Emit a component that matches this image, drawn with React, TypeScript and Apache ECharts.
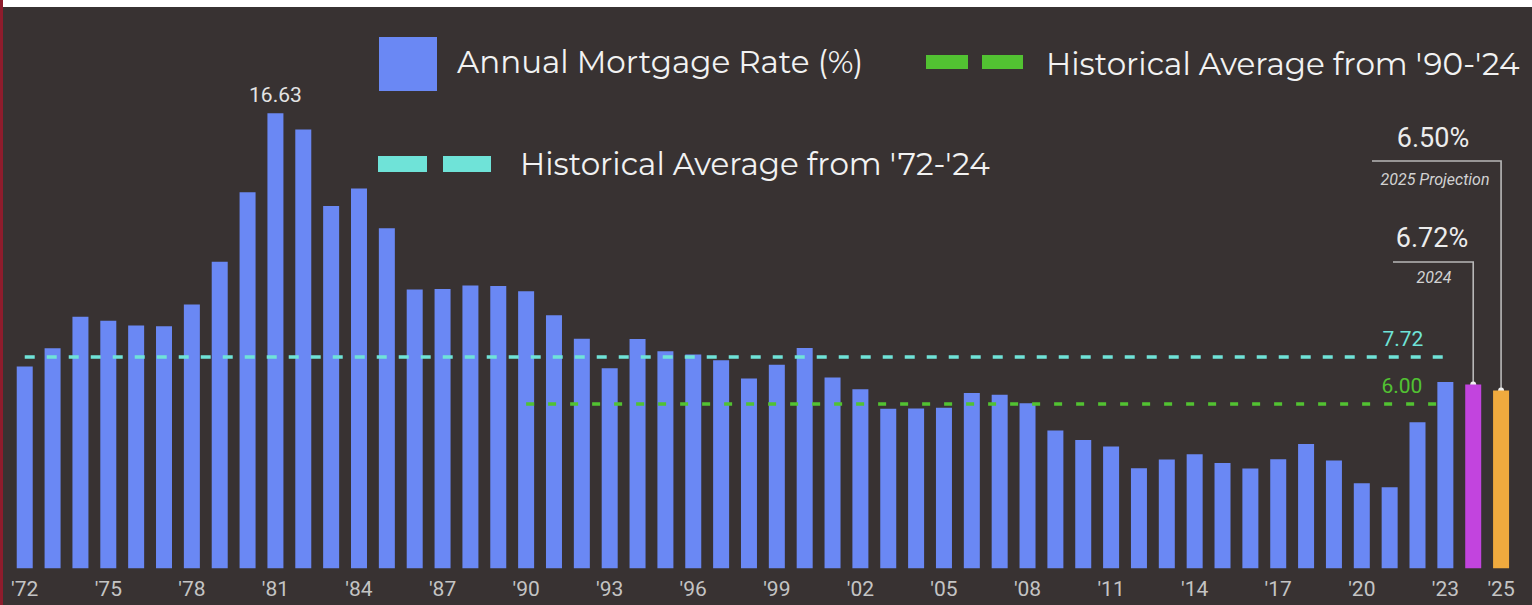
import React, { useEffect, useRef } from "react";
import * as echarts from "echarts";

const years: string[] = [
  "'72", "'73", "'74", "'75", "'76", "'77", "'78", "'79", "'80", "'81",
  "'82", "'83", "'84", "'85", "'86", "'87", "'88", "'89", "'90", "'91",
  "'92", "'93", "'94", "'95", "'96", "'97", "'98", "'99", "'00", "'01",
  "'02", "'03", "'04", "'05", "'06", "'07", "'08", "'09", "'10", "'11",
  "'12", "'13", "'14", "'15", "'16", "'17", "'18", "'19", "'20", "'21",
  "'22", "'23", "'24", "'25",
];

const rates: number[] = [
  7.38, 8.04, 9.19, 9.05, 8.87, 8.85, 9.64, 11.2, 13.74, 16.63,
  16.04, 13.24, 13.88, 12.43, 10.19, 10.21, 10.34, 10.32, 10.13, 9.25,
  8.39, 7.31, 8.38, 7.93, 7.81, 7.6, 6.94, 7.44, 8.05, 6.97,
  6.54, 5.83, 5.84, 5.87, 6.41, 6.34, 6.03, 5.04, 4.69, 4.45,
  3.66, 3.98, 4.17, 3.85, 3.65, 3.99, 4.54, 3.94, 3.11, 2.96,
  5.34, 6.81, 6.72, 6.5,
];

const shownLabels: string[] = [
  "'72", "'75", "'78", "'81", "'84", "'87", "'90", "'93", "'96", "'99",
  "'02", "'05", "'08", "'11", "'14", "'17", "'20", "'23", "'25",
];

const avg72to24 = 7.72;
const avg90to24 = 6.0;
const avg72Range: string[] = ["'72", "'23"];
const avg90Range: string[] = ["'90", "'23"];
const year2024 = "'24";
const year2025 = "'25";

const seriesName = "Annual Mortgage Rate (%)";
const legend90 = "Historical Average from '90-'24";
const legend72 = "Historical Average from '72-'24";

const BLUE = "#6a88f4";
const PURPLE = "#c244de";
const ORANGE = "#f0aa3e";
const CYAN = "#6fe3d8";
const GREEN = "#52c232";
const BG = "#383232";
const LEGEND_FONT = "Montserrat, 'Open Sans', 'Noto Sans', sans-serif";

export default function App() {
  const ref = useRef<HTMLDivElement>(null);

  useEffect(() => {
    if (!ref.current) return;
    const chart = echarts.init(ref.current, undefined, { renderer: "svg" });
    const maxVal = Math.max(...rates);
    const i24 = years.indexOf(year2024);
    const i25 = years.indexOf(year2025);

    const barData = rates.map((v, i) => {
      const item: any = { value: v };
      if (i === i24) item.itemStyle = { color: PURPLE };
      if (i === i25) item.itemStyle = { color: ORANGE };
      if (v === maxVal) {
        item.label = {
          show: true,
          position: "top",
          distance: 8,
          formatter: (p: any) => Number(p.value).toFixed(2),
          color: "#e4e4e4",
          fontSize: 21,
          fontFamily: "Roboto, sans-serif",
        };
      }
      return item;
    });

    chart.setOption({
      animation: false,
      backgroundColor: BG,
      grid: { left: 7.8, right: 17, top: 14.1, bottom: 36.7, containLabel: false },
      xAxis: {
        type: "category",
        data: years,
        boundaryGap: true,
        axisLine: { show: false },
        axisTick: { show: false },
        axisLabel: {
          interval: (_idx: number, val: string) => shownLabels.includes(val),
          color: "#c4c4c4",
          fontSize: 21,
          fontFamily: "Roboto, sans-serif",
          margin: 10,
        },
      },
      yAxis: {
        type: "value",
        min: 0,
        max: 20,
        show: false,
        splitLine: { show: false },
      },
      series: [
        {
          name: seriesName,
          type: "bar",
          data: barData,
          barWidth: 16,
          itemStyle: { color: BLUE },
          markLine: {
            silent: true,
            symbol: "none",
            data: [
              [
                {
                  coord: [avg72Range[0], avg72to24],
                  lineStyle: { color: CYAN, width: 3.5, type: [10, 12] },
                  label: {
                    show: true,
                    position: "insideEndTop",
                    distance: [22, 8],
                    formatter: avg72to24.toFixed(2),
                    color: CYAN,
                    fontSize: 21,
                    fontFamily: "Roboto, sans-serif",
                  },
                },
                { coord: [avg72Range[1], avg72to24] },
              ],
              [
                {
                  coord: [avg90Range[0], avg90to24],
                  lineStyle: { color: GREEN, width: 3.5, type: [8, 14] },
                  label: {
                    show: true,
                    position: "insideEndTop",
                    distance: [23, 8],
                    formatter: avg90to24.toFixed(2),
                    color: GREEN,
                    fontSize: 21,
                    fontFamily: "Roboto, sans-serif",
                  },
                },
                { coord: [avg90Range[1], avg90to24] },
              ],
            ],
          },
        },
      ],
    });

    const p24 = chart.convertToPixel({ xAxisIndex: 0, yAxisIndex: 0 }, [i24, rates[i24]]) as number[];
    const p25 = chart.convertToPixel({ xAxisIndex: 0, yAxisIndex: 0 }, [i25, rates[i25]]) as number[];
    const leader = { stroke: "#b8b8b8", lineWidth: 1.6 };
    const annoFont = "Roboto, sans-serif";

    chart.setOption({
      graphic: [
        // legend
        { type: "rect", shape: { x: 376, y: 30, width: 58, height: 54 }, style: { fill: BLUE } },
        {
          type: "text", x: 454, y: 55,
          style: { text: seriesName, fill: "#f2f2f2", font: `31px ${LEGEND_FONT}`, verticalAlign: "middle" },
        },
        { type: "rect", shape: { x: 923, y: 48, width: 42, height: 14 }, style: { fill: GREEN } },
        { type: "rect", shape: { x: 979, y: 48, width: 41, height: 14 }, style: { fill: GREEN } },
        {
          type: "text", x: 1043, y: 57,
          style: { text: legend90, fill: "#f2f2f2", font: `31px ${LEGEND_FONT}`, verticalAlign: "middle" },
        },
        { type: "rect", shape: { x: 375, y: 149, width: 49, height: 16 }, style: { fill: CYAN } },
        { type: "rect", shape: { x: 440, y: 149, width: 48, height: 16 }, style: { fill: CYAN } },
        {
          type: "text", x: 517, y: 157,
          style: { text: legend72, fill: "#f2f2f2", font: `31px ${LEGEND_FONT}`, verticalAlign: "middle" },
        },
        // 2025 projection annotation
        {
          type: "text", x: 1430, y: 131,
          style: { text: rates[i25].toFixed(2) + "%", fill: "#ececec", font: `27px ${annoFont}`, align: "center", verticalAlign: "middle" },
        },
        { type: "polyline", shape: { points: [[1369, 154], [p25[0], 154], [p25[0], p25[1]]] }, style: { ...leader, fill: "none" } },
        { type: "circle", shape: { cx: p25[0], cy: p25[1], r: 3 }, style: { fill: "#f2f2f2" } },
        {
          type: "text", x: 1432, y: 172,
          style: { text: "2025 Projection", fill: "#d2d2d2", font: `italic 16px ${annoFont}`, align: "center", verticalAlign: "middle" },
        },
        // 2024 annotation
        {
          type: "text", x: 1429, y: 231,
          style: { text: rates[i24].toFixed(2) + "%", fill: "#ececec", font: `27px ${annoFont}`, align: "center", verticalAlign: "middle" },
        },
        { type: "polyline", shape: { points: [[1390, 255], [p24[0], 255], [p24[0], p24[1]]] }, style: { ...leader, fill: "none" } },
        { type: "circle", shape: { cx: p24[0], cy: p24[1], r: 3 }, style: { fill: "#f2f2f2" } },
        {
          type: "text", x: 1431, y: 270,
          style: { text: "2024", fill: "#d2d2d2", font: `italic 16px ${annoFont}`, align: "center", verticalAlign: "middle" },
        },
      ],
    });

    return () => chart.dispose();
  }, []);

  return (
    <div style={{ position: "fixed", left: 0, top: 0, width: 1532, height: 605, background: "#ffffff", overflow: "hidden" }}>
      <div style={{ position: "absolute", left: 0, top: 0, width: 3, height: 605, background: "#8e1c2c" }} />
      <div ref={ref} style={{ position: "absolute", left: 3, top: 7, width: 1529, height: 598 }} />
    </div>
  );
}
